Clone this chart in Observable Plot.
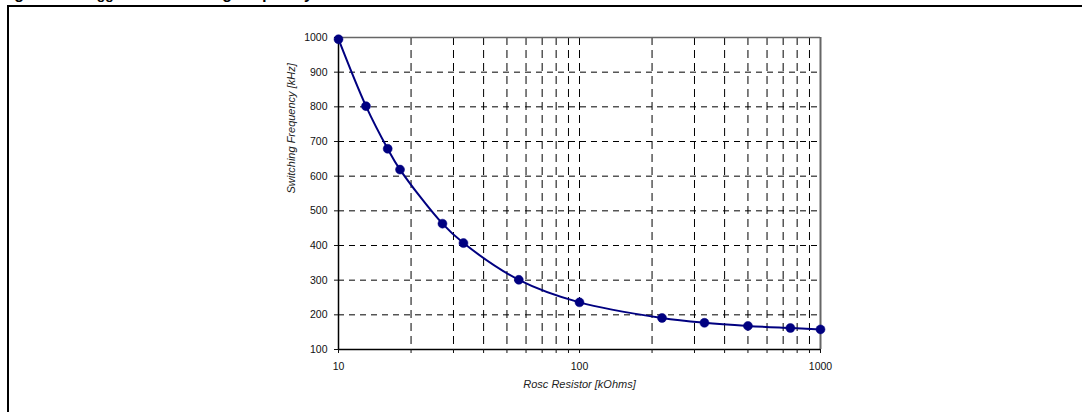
<!DOCTYPE html>
<html>
<head>
<meta charset="utf-8">
<script src="https://cdn.jsdelivr.net/npm/d3@7"></script>
<script src="https://cdn.jsdelivr.net/npm/@observablehq/plot@0.6"></script>
<style>
  html, body { margin: 0; padding: 0; background: #fff; overflow: hidden; }
  body { width: 1082px; height: 412px; position: relative; font-family: "Liberation Sans", Arial, sans-serif; }
  #title { position: absolute; left: 0; top: -15px; font: bold 16px "Liberation Sans", Arial, sans-serif; white-space: nowrap; color: #000; }
  #frame { position: absolute; left: 7px; top: 5px; width: 1200px; height: 600px; border-top: 2px solid #000; border-left: 2px solid #000; }
  #chart { position: absolute; left: 0; top: 0; }
  #chart svg { background: transparent !important; }
</style>
</head>
<body>
<div id="title">Figure 9. R<span style="font-size:14px">trigger</span> vs. switching frequency</div>
<div id="frame"></div>
<div id="chart"></div>
<script>
// Data
const rosc = [10, 13, 16, 18, 27, 33, 56, 100, 220, 330, 500, 750, 1000];
const freq = [995, 802, 679, 619, 463, 407, 301, 236, 191, 177, 168, 162, 158];

const yTicks = [100, 200, 300, 400, 500, 600, 700, 800, 900, 1000];
const yGrid = [200, 300, 400, 500, 600, 700, 800, 900];
const xTicks = [10, 20, 30, 40, 50, 60, 70, 80, 90, 100, 200, 300, 400, 500, 600, 700, 800, 900, 1000];
const xGrid = [20, 30, 40, 50, 60, 70, 80, 90, 100, 200, 300, 400, 500, 600, 700, 800, 900];
const xLabels = [10, 100, 1000];

const xTitle = "Rosc Resistor [kOhms]";
const yTitle = "Switching Frequency [kHz]";

const data = rosc.map((r, i) => ({r, f: freq[i]}));

const chart = Plot.plot({
  width: 1082,
  height: 412,
  marginLeft: 338,
  marginRight: 262,
  marginTop: 37,
  marginBottom: 63,
  style: {fontFamily: "'Liberation Sans', Arial, sans-serif", fontSize: "10.5px", color: "#111", background: "transparent"},
  x: {type: "log", domain: [10, 1000]},
  y: {domain: [100, 1000]},
  marks: [
    Plot.ruleY(yGrid, {stroke: "#000", strokeWidth: 1, strokeDasharray: "6,5"}),
    Plot.ruleX(xGrid, {stroke: "#000", strokeWidth: 1, strokeDasharray: "8,5"}),
    Plot.ruleY([1000], {stroke: "#666", strokeWidth: 1.5}),
    Plot.ruleX([1000], {stroke: "#666", strokeWidth: 2}),
    Plot.ruleX([10], {stroke: "#000", strokeWidth: 1.5}),
    Plot.ruleY([100], {stroke: "#000", strokeWidth: 1.5}),
    Plot.axisY({ticks: yTicks, tickSize: 4, tickPadding: 7, label: null, tickFormat: d => String(d)}),
    Plot.axisX({ticks: xTicks, tickSize: 4, tickPadding: 9, label: null,
      tickFormat: d => xLabels.includes(d) ? String(d) : ""}),
    Plot.line(data, {x: "r", y: "f", stroke: "#000080", strokeWidth: 2, curve: "catmull-rom"}),
    Plot.dot(data, {x: "r", y: "f", r: 4.5, fill: "#000080", stroke: "#000080", strokeWidth: 0.5}),
    Plot.text([xTitle], {frameAnchor: "bottom", dy: 38, fontStyle: "italic", fontSize: 11, fill: "#222"}),
    Plot.text([yTitle], {frameAnchor: "left", dx: -47, rotate: -90, fontStyle: "italic", fontSize: 11, fill: "#222"})
  ]
});
document.getElementById("chart").appendChild(chart);
</script>
</body>
</html>
